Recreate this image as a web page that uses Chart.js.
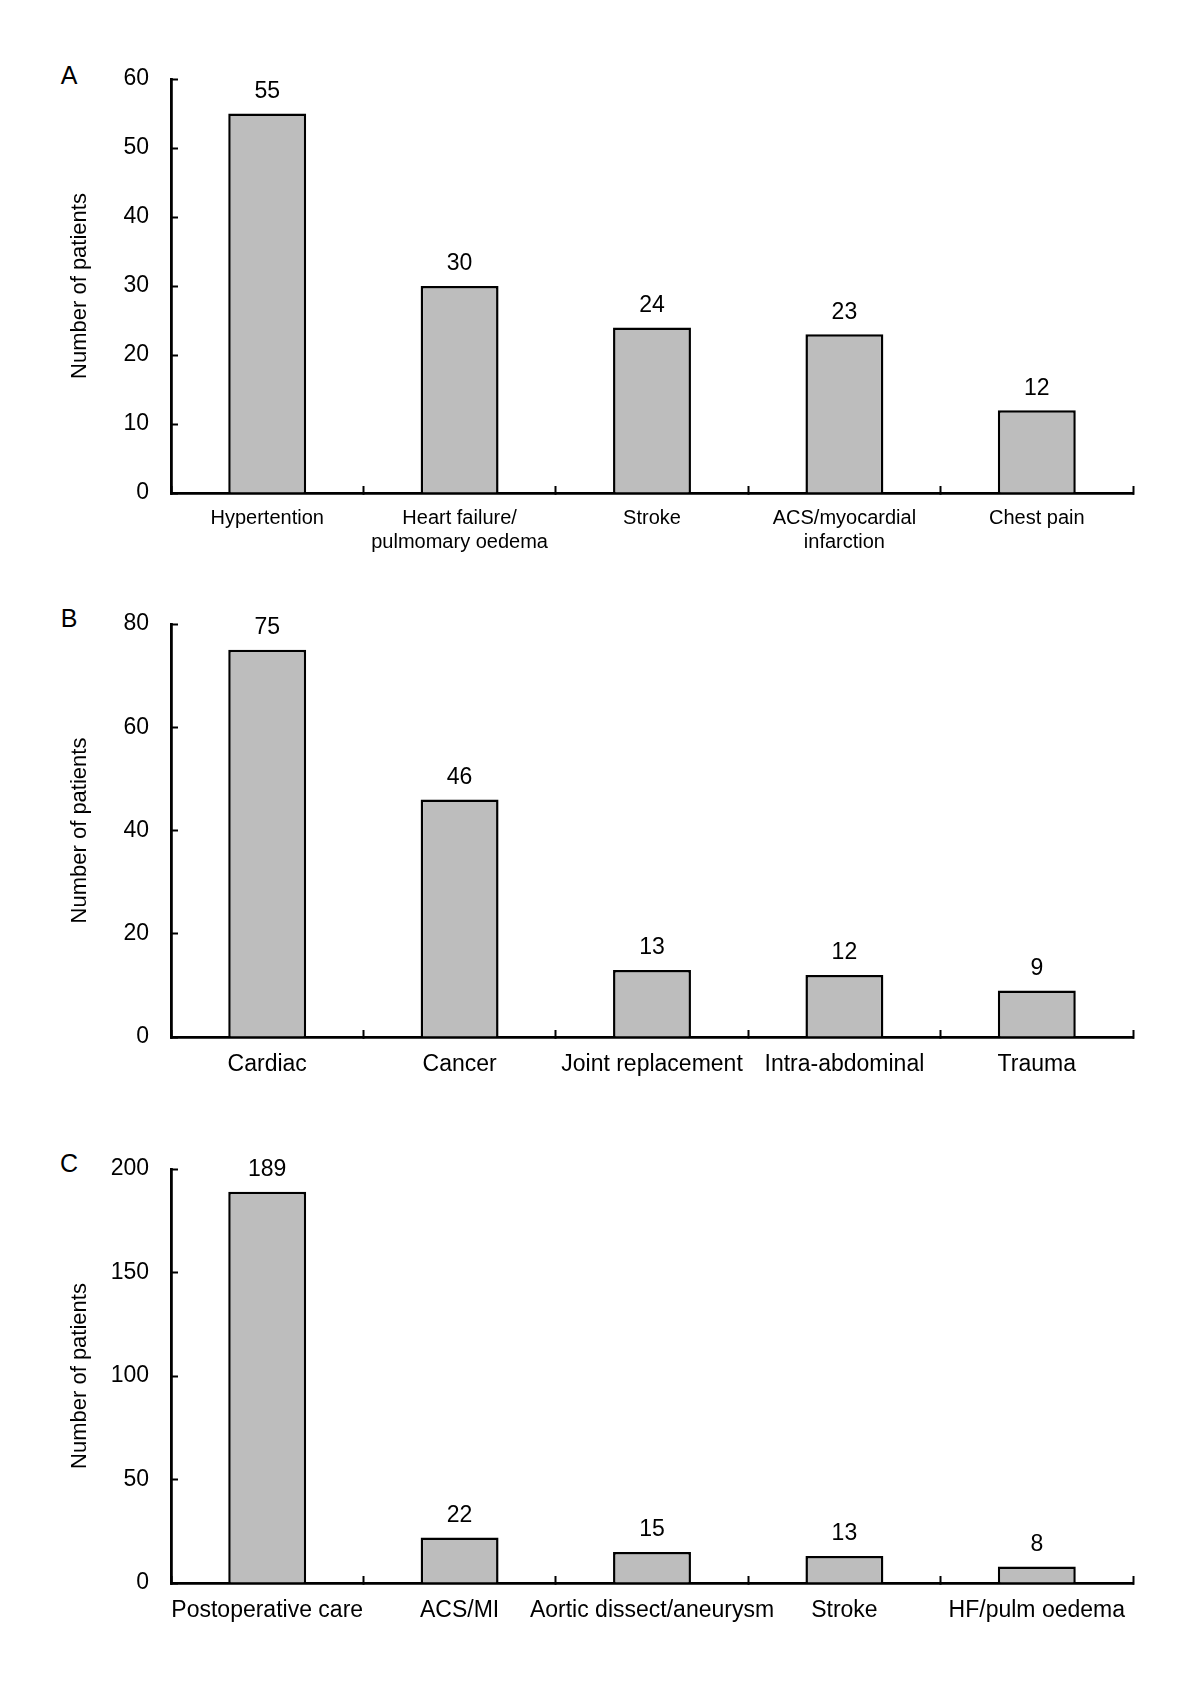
<!DOCTYPE html>
<html>
  <head>
    <title>Number of patients by diagnosis</title>
    <script src="https://cdn.jsdelivr.net/npm/chart.js"></script>
    <style>
      body { margin: 0; background: #fff; width: 1200px; height: 1689px; position: relative; font-family: "Liberation Sans", Arial, sans-serif; }
      .panel { position: absolute; left: 0; width: 1200px; }
      .letter { position: absolute; font-size: 25px; color: #000; transform: translate(-50%, -50%); }
    </style>
  </head>
  <body>
    <div class="letter" style="left:69px; top:75px;">A</div>
    <div class="letter" style="left:69px; top:618px;">B</div>
    <div class="letter" style="left:69px; top:1163px;">C</div>

    <div class="panel" style="top:0px; height:560px;"><canvas id="chartA"></canvas></div>
    <div class="panel" style="top:560px; height:560px;"><canvas id="chartB"></canvas></div>
    <div class="panel" style="top:1120px; height:569px;"><canvas id="chartC"></canvas></div>

    <script>
      // panel A
      const catsA = ["Hypertention", ["Heart failure/", "pulmomary oedema"], "Stroke", ["ACS/myocardial", "infarction"], "Chest pain"];
      const valsA = [55, 30, 24, 23, 12];
      const maxA = 60, stepA = 10;

      // panel B
      const catsB = ["Cardiac", "Cancer", "Joint replacement", "Intra-abdominal", "Trauma"];
      const valsB = [75, 46, 13, 12, 9];
      const maxB = 80, stepB = 20;

      // panel C
      const catsC = ["Postoperative care", "ACS/MI", "Aortic dissect/aneurysm", "Stroke", "HF/pulm oedema"];
      const valsC = [189, 22, 15, 13, 8];
      const maxC = 200, stepC = 50;

      const FONT = '"Liberation Sans", Arial, sans-serif';

      // value labels above bars
      const valueLabels = {
        id: "valueLabels",
        afterDatasetsDraw(chart) {
          const ctx = chart.ctx;
          const meta = chart.getDatasetMeta(0);
          const data = chart.data.datasets[0].data;
          ctx.save();
          ctx.font = "23px " + FONT;
          ctx.fillStyle = "#000";
          ctx.textAlign = "center";
          ctx.textBaseline = "middle";
          meta.data.forEach((bar, i) => {
            ctx.fillText(data[i], bar.x, bar.y - 22);
          });
          ctx.restore();
        },
      };

      function makeChart(id, cats, vals, max, step, opts) {
        return new Chart(document.getElementById(id), {
          type: "bar",
          data: {
            labels: cats,
            datasets: [
              {
                data: vals,
                backgroundColor: "#bdbdbd",
                borderColor: "#000",
                borderWidth: 2.5,
                borderSkipped: "bottom",
                categoryPercentage: 1,
                barPercentage: 0.405,
              },
            ],
          },
          options: {
            responsive: true,
            maintainAspectRatio: false,
            animation: false,
            layout: { padding: { top: opts.top, right: 67, left: 0, bottom: 0 } },
            plugins: { legend: { display: false }, tooltip: { enabled: false } },
            scales: {
              x: {
                afterFit: (axis) => { axis.height = opts.xh; },
                border: { color: "#000", width: 2.8 },
                grid: { drawOnChartArea: false, tickLength: -7, tickWidth: 2, tickColor: "#000" },
                ticks: { color: "#000", font: { family: FONT, size: opts.xfont }, padding: opts.xpad, maxRotation: 0, autoSkip: false },
              },
              y: {
                min: 0,
                max: max,
                afterFit: (axis) => { axis.width = 171; },
                border: { color: "#000", width: 2.8 },
                grid: { drawOnChartArea: false, tickLength: -7, tickWidth: 2, tickColor: "#000" },
                ticks: { stepSize: step, color: "#000", font: { family: FONT, size: 23 }, padding: 29 },
                title: {
                  display: true,
                  text: "Number of patients",
                  color: "#000",
                  font: { family: FONT, size: 22 },
                  padding: { top: 67, bottom: 0 },
                },
              },
            },
          },
          plugins: [valueLabels],
        });
      }

      makeChart("chartA", catsA, valsA, maxA, stepA, { top: 79, xh: 560 - 493, xfont: 20, xpad: 20 });
      makeChart("chartB", catsB, valsB, maxB, stepB, { top: 64, xh: 560 - 477, xfont: 23, xpad: 21 });
      makeChart("chartC", catsC, valsC, maxC, stepC, { top: 49, xh: 569 - 463, xfont: 23, xpad: 21 });
    </script>
  </body>
</html>
